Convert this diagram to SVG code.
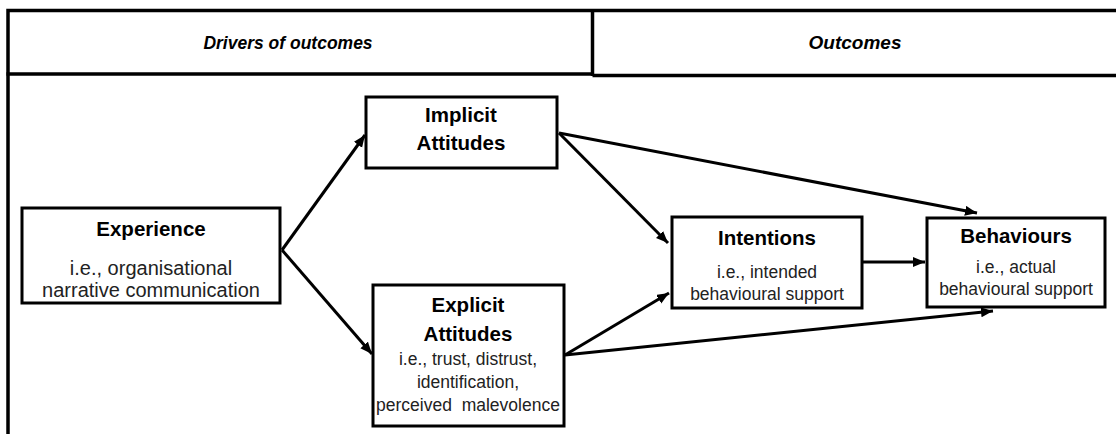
<svg xmlns="http://www.w3.org/2000/svg" width="1116" height="434" viewBox="0 0 1116 434">
  <style>
    .frame { fill: none; stroke: #000; stroke-width: 3.5; }
    .box { fill: #fff; stroke: #000; stroke-width: 3; }
    .conn { fill: none; stroke: #000; stroke-width: 3; }
    .head { font-family: "Liberation Sans", Arial, sans-serif; font-weight: bold; font-style: italic; font-size: 19px; fill: #000; text-anchor: middle; }
    .title { font-family: "Liberation Sans", Arial, sans-serif; font-weight: bold; font-size: 20.5px; fill: #000; text-anchor: middle; }
    .sub { font-family: "Liberation Sans", Arial, sans-serif; font-size: 17.5px; fill: #222; text-anchor: middle; white-space: pre; }
  </style>
  <defs>
    <marker id="arrow" markerUnits="userSpaceOnUse" markerWidth="13" markerHeight="11" refX="12" refY="5" orient="auto">
      <path d="M0,0 L12,5 L0,10 z" fill="#000"/>
    </marker>
  </defs>
  <rect width="1116" height="434" fill="#fff"/>

  <!-- table frame with two header cells -->
  <g id="frame">
    <path class="frame" d="M8,434 V10.5 H1116"/>
    <path class="frame" d="M6.5,74 H592.5"/>
    <path class="frame" d="M592.5,75.5 H1116"/>
    <path class="frame" d="M592.5,10.5 V76"/>
    <text class="head" x="288" y="49" style="font-size:17.5px">Drivers of outcomes</text>
    <text class="head" x="855" y="49">Outcomes</text>
  </g>

  <!-- connectors -->
  <g id="connectors">
    <line class="conn" x1="282" y1="250" x2="365" y2="135" marker-end="url(#arrow)"/>
    <line class="conn" x1="282" y1="250" x2="372" y2="354" marker-end="url(#arrow)"/>
    <line class="conn" x1="559" y1="133" x2="668" y2="243" marker-end="url(#arrow)"/>
    <line class="conn" x1="559" y1="133" x2="977" y2="213" marker-end="url(#arrow)"/>
    <line class="conn" x1="565" y1="355" x2="669" y2="293" marker-end="url(#arrow)"/>
    <line class="conn" x1="565" y1="355" x2="993" y2="311" marker-end="url(#arrow)"/>
    <line class="conn" x1="863" y1="262" x2="925" y2="262" marker-end="url(#arrow)"/>
  </g>

  <g id="experience">
    <rect class="box" x="22" y="208" width="258" height="95"/>
    <text class="title" x="151" y="236">Experience</text>
    <text class="sub" x="151" y="275" style="font-size:20px">i.e., organisational</text>
    <text class="sub" x="151" y="297" style="font-size:20px">narrative communication</text>
  </g>

  <g id="implicit">
    <rect class="box" x="366" y="97" width="191" height="71"/>
    <text class="title" x="461" y="122">Implicit</text>
    <text class="title" x="461" y="150">Attitudes</text>
  </g>

  <g id="explicit">
    <rect class="box" x="373" y="285" width="191" height="141"/>
    <text class="title" x="468" y="312">Explicit</text>
    <text class="title" x="468" y="341">Attitudes</text>
    <text class="sub" x="468" y="365">i.e., trust, distrust,</text>
    <text class="sub" x="468" y="388">identification,</text>
    <text class="sub" x="468" y="411" xml:space="preserve">perceived  malevolence</text>
  </g>

  <g id="intentions">
    <rect class="box" x="672" y="217" width="190" height="91"/>
    <text class="title" x="767" y="245">Intentions</text>
    <text class="sub" x="767" y="278">i.e., intended</text>
    <text class="sub" x="767" y="300">behavioural support</text>
  </g>

  <g id="behaviours">
    <rect class="box" x="927" y="218" width="178" height="89"/>
    <text class="title" x="1016" y="243">Behaviours</text>
    <text class="sub" x="1016" y="273">i.e., actual</text>
    <text class="sub" x="1016" y="295">behavioural support</text>
  </g>
</svg>
